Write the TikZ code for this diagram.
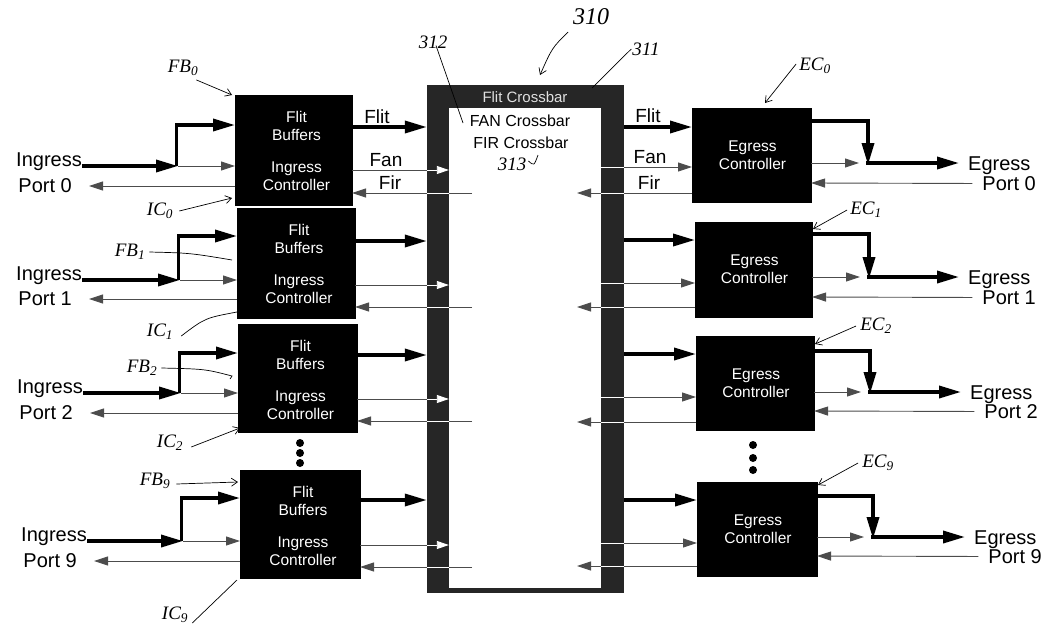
\documentclass[tikz,border=0pt]{standalone}
\usepackage{fontspec}
\setmainfont{Liberation Sans}
\newfontfamily\handfont{Liberation Serif}
\usetikzlibrary{arrows.meta}
\begin{document}
\begin{tikzpicture}[x=1pt,y=-1pt,
  blk/.style={draw=black, fill=black, inner sep=0, outer sep=0},
  wtxt/.style={text=white, align=center, font=\fontsize{15.5}{18}\selectfont, inner sep=0},
  portlab/.style={font=\fontsize{20}{21}\selectfont, inner sep=0},
  siglab/.style={font=\fontsize{19}{20}\selectfont, inner sep=0, anchor=south},
  xtxt/.style={font=\fontsize{16}{18}\selectfont, inner sep=0},
  thickar/.style={line width=3.5pt, -{Triangle[length=22pt,width=12pt]}},
  thinar/.style={line width=0.9pt, draw=black!70, -{Triangle[length=14pt,width=9pt]}},
  thinln/.style={line width=0.9pt, draw=black!70},
  wln/.style={line width=0.9pt, draw=white},
  war/.style={line width=0.9pt, draw=white, -{Triangle[length=12pt,width=8pt]}},
  hand/.style={font=\handfont\itshape\fontsize{19}{20}\selectfont, inner sep=0},
  handln/.style={line width=0.7pt},
  handar/.style={line width=0.7pt, -{Straight Barb[length=6pt,width=8pt]}},
  dot/.style={circle, fill=black, inner sep=0, minimum size=8},
]
\useasboundingbox (0,0) rectangle (1048,624);

% crossbar
\node[fill=black!85, minimum width=197, minimum height=508, inner sep=0] (xb) at (525.5,339) {};
\node[fill=white, minimum width=152, minimum height=480, inner sep=0] (xi) at (525,348) {};
\node[xtxt, text=black!12, font=\fontsize{15}{16}\selectfont] (xbt) at (525,97) {Flit Crossbar};
\node[xtxt] (fanx) at (520,121) {FAN Crossbar};
\node[xtxt] (firx) at (521,143) {FIR Crossbar};

% ingress rows
\foreach \i/\L/\R/\T/\B/\up/\mn/\rt/\fl/\fa/\fr/\bx/\tx in {
 0/235/352/95/205/125/166/186/127/170/193/178/0,
 1/237/355/208/318/236/280/299/241/285/307/180/0,
 2/238/357/324/432/353/393/413/355/399/421/181/1,
 9/240/360/470/578/498/541/561/500/545/567/183/5}
{
 \node[blk, minimum width={\R-\L}, minimum height={\B-\T}] (ib\i) at ({(\L+\R)/2},{(\T+\B)/2}) {};
 \node[wtxt] (fb\i) at ({(\L+\R)/2+3},{\T+31}) {Flit\\Buffers};
 \node[wtxt] (ic\i) at ({(\L+\R)/2+3},{\T+81}) {Ingress\\Controller};
 \node[portlab, anchor=base east] (in\i) at ({82+\tx},\mn) {Ingress};
 \node[portlab, anchor=east] (ip\i) at ({72+\tx},\rt) {Port \i};
 \coordinate (br\i) at (\bx,\mn);
 \draw[thickar] (in\i.base east) -- (br\i);
 \draw[thickar] ([xshift=-1.75pt]br\i.center) |- (ib\i.west |- 0,\up);
 \draw[thinar] (br\i) -- (ib\i.west |- 0,\mn);
 \draw[thinar, shorten >=17pt] (ib\i.west |- 0,\rt) -- (ip\i.east);
 \draw[thickar] (ib\i.east |- 0,\fl) -- (xb.west |- 0,\fl);
 \draw[thinln] (ib\i.east |- 0,\fa) -- (xb.west |- 0,\fa);
 \draw[war] (xb.west |- 0,\fa) -- (xi.west |- 0,\fa);
 \coordinate (fir\i) at (472,\fr);
 \draw[thinar] (fir\i) -- (ib\i.east |- 0,\fr);
 \draw[wln] (xb.west |- 0,\fr) -- (xi.west |- 0,\fr);
}
\node[siglab] (lflit) at (377,124) {Flit};
\node[siglab] (lfan) at (386,167) {Fan};
\node[siglab] (lfir) at (390,190) {Fir};

% egress rows
\foreach \i/\L/\R/\T/\B/\fl/\fa/\fr/\tp/\cx/\ou/\rt/\tx in {
 0/692/811/108/202/127/167/193/121/868/163/183/0,
 1/695/812/222/317/240/283/307/234/869/277/297/0,
 2/696/814/336/430/354/397/422/351/870/392/411/2,
 9/697/817/482/576/500/543/566/496/873/537/556/6}
{
 \node[blk, minimum width={\R-\L}, minimum height={\B-\T}] (eb\i) at ({(\L+\R)/2},{(\T+\B)/2}) {};
 \node[wtxt] (ect\i) at ({(\L+\R)/2+1},{(\T+\B)/2}) {Egress\\Controller};
 \node[portlab, anchor=base west] (eo\i) at ({968+\tx},{\ou+7}) {Egress};
 \node[portlab, anchor=east] (ep\i) at ({1036+\tx},{\rt+0.5}) {Port \i};
 \draw[thickar] (xb.east |- 0,\fl) -- (eb\i.west |- 0,\fl);
 \draw[thinar] (xb.east |- 0,\fa) -- (eb\i.west |- 0,\fa);
 \draw[wln] (xi.east |- 0,\fa) -- (xb.east |- 0,\fa);
 \coordinate (efr\i) at (577,\fr);
 \draw[thinar] (eb\i.west |- 0,\fr) -- (efr\i);
 \draw[wln] (xi.east |- 0,\fr) -- (xb.east |- 0,\fr);
 \coordinate (ec\i) at (\cx,\ou);
 \draw[thickar] (eb\i.east |- 0,\tp) -| ([yshift=-2pt]ec\i);
 \draw[thinar, shorten >=9pt] (eb\i.east |- 0,\ou) -- (ec\i);
 \draw[thickar, shorten >=9pt] ([xshift=-1.75pt]ec\i) -- (eo\i.west |- ec\i);
 \draw[thinar, shorten <=10pt] (ep\i.west) -- (eb\i.east |- 0,\rt);
}
\node[siglab] (rflit) at (648,123) {Flit};
\node[siglab] (rfan) at (650,164) {Fan};
\node[siglab] (rfir) at (649,190) {Fir};

% continuation dots
\node[dot] (d1) at (300,443) {};
\node[dot] (d2) at (300,453) {};
\node[dot] (d3) at (300,463) {};
\node[dot] (d4) at (753,445) {};
\node[dot] (d5) at (753,458) {};
\node[dot] (d6) at (753,470) {};

% handwritten reference labels
\node[hand] (hfb0) at (183,68) {FB\textsubscript{0}};
\coordinate (tfb0) at (232,95);
\draw[handar] (hfb0.south east) ++(-2,4) -- (tfb0);
\node[hand] (hic0) at (160,211) {IC\textsubscript{0}};
\coordinate (tic0) at (232,198);
\draw[handar] ([xshift=6]hic0.east) -- (tic0);
\node[hand] (hfb1) at (130,252) {FB\textsubscript{1}};
\coordinate (tfb1) at (232,260);
\draw[handln] ([xshift=4]hfb1.east) .. controls (190,253) .. (tfb1);
\node[hand] (hic1) at (160,332) {IC\textsubscript{1}};
\coordinate (tic1) at (237,312);
\draw[handln] ([xshift=8,yshift=-4]hic1.east) .. controls (205,318) .. (tic1);
\node[hand] (hfb2) at (142,368) {FB\textsubscript{2}};
\coordinate (tfb2) at (232,376);
\draw[handln] ([xshift=4]hfb2.east) .. controls (205,369) .. (tfb2) -- ++(-2,3);
\node[hand] (hic2) at (170,443) {IC\textsubscript{2}};
\coordinate (tic2) at (240,428);
\draw[handar] ([xshift=8,yshift=-4]hic2.east) -- (tic2);
\node[hand] (hfb9) at (155,481) {FB\textsubscript{9}};
\coordinate (tfb9) at (238,482);
\draw[handar] ([xshift=6,yshift=-3]hfb9.east) -- (tfb9);
\node[hand] (hic9) at (175,615) {IC\textsubscript{9}};
\coordinate (tic9) at (237,580);
\draw[handln] ([xshift=4,yshift=-8]hic9.east) -- (tic9);
\node[hand] (hec0) at (815,66) {EC\textsubscript{0}};
\coordinate (tec0) at (765,103);
\draw[handar] ([xshift=-3,yshift=2]hec0.west) -- (tec0);
\node[hand] (hec1) at (866,210) {EC\textsubscript{1}};
\coordinate (tec1) at (813,229);
\draw[handar] ([xshift=-3]hec1.west) -- (tec1);
\node[hand] (hec2) at (876,326) {EC\textsubscript{2}};
\coordinate (tec2) at (815,344);
\draw[handar] ([xshift=-4]hec2.west) -- (tec2);
\node[hand] (hec9) at (878,463) {EC\textsubscript{9}};
\coordinate (tec9) at (818,485);
\draw[handar] ([xshift=-4]hec9.west) -- (tec9);
\node[hand, font=\handfont\itshape\fontsize{24}{26}\selectfont] (h310) at (591,17) {310};
\coordinate (t310) at (540,75);
\draw[handar] (568,32) .. controls (552,48) .. (t310);
\node[hand] (h312) at (433,42) {312};
\coordinate (t312) at (463,123);
\draw[handln] ([xshift=3,yshift=3]h312.south) -- (t312);
\node[hand] (h311) at (646,49) {311};
\coordinate (t311) at (592,88);
\draw[handln] ([xshift=-1]h311.west) -- (t311);
\node[hand] (h313) at (512,164) {313};
\coordinate (t313) at (538,155);
\draw[handln] ([xshift=2,yshift=3]h313.east) .. controls (534,166) .. (t313);
\end{tikzpicture}
\end{document}
